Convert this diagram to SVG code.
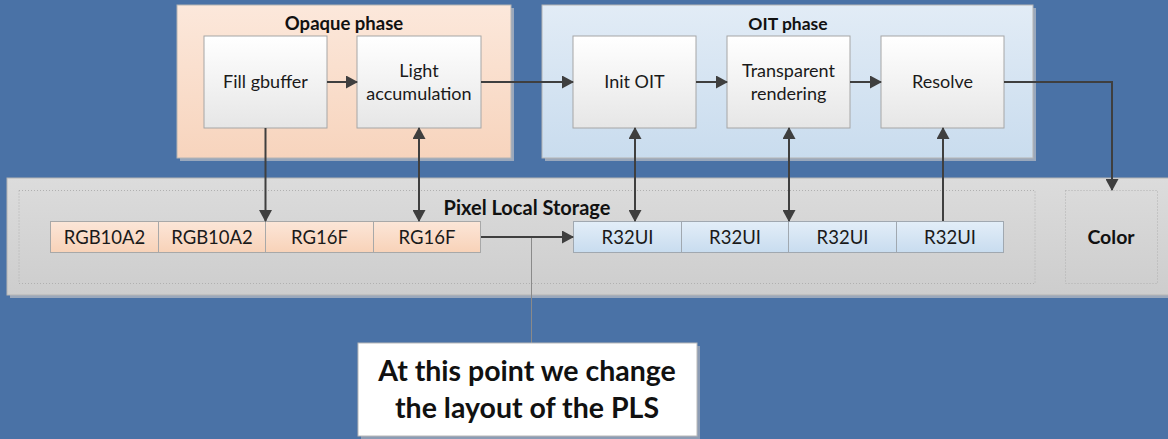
<svg xmlns="http://www.w3.org/2000/svg" width="1168" height="439" viewBox="0 0 1168 439">
  <defs>
    <linearGradient id="gPeach" x1="0" y1="0" x2="0" y2="1">
      <stop offset="0" stop-color="#fce8db"/>
      <stop offset="1" stop-color="#f7d4bd"/>
    </linearGradient>
    <linearGradient id="gIce" x1="0" y1="0" x2="0" y2="1">
      <stop offset="0" stop-color="#e2ecf6"/>
      <stop offset="1" stop-color="#c9dcee"/>
    </linearGradient>
    <linearGradient id="gNode" x1="0" y1="0" x2="0" y2="1">
      <stop offset="0" stop-color="#ffffff"/>
      <stop offset="1" stop-color="#e6e6e6"/>
    </linearGradient>
    <linearGradient id="gGray" x1="0" y1="0" x2="0" y2="1">
      <stop offset="0" stop-color="#dcdcdc"/>
      <stop offset="1" stop-color="#cdcdcd"/>
    </linearGradient>
    <linearGradient id="gCellPeach" x1="0" y1="0" x2="0" y2="1">
      <stop offset="0" stop-color="#fce6d8"/>
      <stop offset="1" stop-color="#f8d2b8"/>
    </linearGradient>
    <linearGradient id="gCellIce" x1="0" y1="0" x2="0" y2="1">
      <stop offset="0" stop-color="#e3eef8"/>
      <stop offset="1" stop-color="#c8dcef"/>
    </linearGradient>
    <marker id="head" viewBox="0 0 12 13" refX="11" refY="6.5" markerWidth="12" markerHeight="13" markerUnits="userSpaceOnUse" orient="auto-start-reverse">
      <path d="M0,0 L12,6.5 L0,13 Z" fill="#3f3f3f"/>
    </marker>
    <style>
      .label { font-family: Lato, "Open Sans", "Liberation Sans", sans-serif; font-size: 18px; fill: #1a1a1a; text-anchor: middle; }
      .cell { font-family: Lato, "Open Sans", "Liberation Sans", sans-serif; font-size: 18.5px; fill: #1a1a1a; text-anchor: middle; }
      .title { font-family: Lato, "Open Sans", "Liberation Sans", sans-serif; font-size: 17.5px; font-weight: bold; fill: #111; text-anchor: middle; }
      .callout { font-family: Lato, "Open Sans", "Liberation Sans", sans-serif; font-size: 28.5px; font-weight: bold; fill: #111; text-anchor: middle; }
      .shadow { fill: #9aa8bc; }
      .panel { stroke: #b4b4b4; stroke-width: 1; }
      .node { fill: url(#gNode); stroke: #a6a6a6; stroke-width: 1; }
      .dotted { fill: none; stroke: #b0b0b0; stroke-width: 1; stroke-dasharray: 1 2; }
      .cellP { fill: url(#gCellPeach); stroke: #a8a8a8; stroke-width: 1; }
      .cellB { fill: url(#gCellIce); stroke: #a0a8b0; stroke-width: 1; }
      .wire { fill: none; stroke: #3f3f3f; stroke-width: 2; }
    </style>
  </defs>

  <rect width="1168" height="439" fill="#4a72a6"/>

  <!-- Opaque phase container -->
  <g id="opaque-phase">
    <rect class="shadow" x="180" y="8" width="334" height="153"/>
    <rect class="panel" x="177" y="5" width="334" height="153" fill="url(#gPeach)"/>
    <text class="title" x="344" y="30" style="font-size:18.5px">Opaque phase</text>
  </g>

  <!-- OIT phase container -->
  <g id="oit-phase">
    <rect class="shadow" x="545" y="8" width="491" height="153"/>
    <rect class="panel" x="542" y="5" width="491" height="153" fill="url(#gIce)"/>
    <text class="title" x="788" y="30">OIT phase</text>
  </g>

  <!-- Pixel Local Storage container -->
  <g id="pls">
    <rect class="shadow" x="10" y="181" width="1170" height="117"/>
    <rect class="panel" x="7" y="178" width="1170" height="117" fill="url(#gGray)"/>
    <rect class="dotted" x="19" y="190.5" width="1016" height="93"/>
    <text class="title" x="527" y="215" style="font-size:20px">Pixel Local Storage</text>
  </g>

  <g id="color">
    <rect class="dotted" x="1065.5" y="190.5" width="92" height="93"/>
    <text class="title" x="1111" y="244" style="font-size:19.5px">Color</text>
  </g>

  <!-- Passes -->
  <g id="fill-gbuffer">
    <rect class="node" x="204" y="36" width="123" height="92"/>
    <text class="label" x="265.5" y="88">Fill gbuffer</text>
  </g>
  <g id="light-accumulation">
    <rect class="node" x="357" y="36" width="124" height="92"/>
    <text class="label" x="419" y="77">Light</text>
    <text class="label" x="419" y="100">accumulation</text>
  </g>
  <g id="init-oit">
    <rect class="node" x="573" y="36" width="123" height="92"/>
    <text class="label" x="634.5" y="88">Init OIT</text>
  </g>
  <g id="transparent-rendering">
    <rect class="node" x="727" y="36" width="123" height="92"/>
    <text class="label" x="788.5" y="77">Transparent</text>
    <text class="label" x="788.5" y="100">rendering</text>
  </g>
  <g id="resolve">
    <rect class="node" x="881" y="36" width="123" height="92"/>
    <text class="label" x="942.5" y="88">Resolve</text>
  </g>

  <!-- Storage layout: opaque phase -->
  <g id="pls-opaque-layout">
    <rect class="cellP" x="50.5" y="221.5" width="108" height="31"/>
    <rect class="cellP" x="158.5" y="221.5" width="107" height="31"/>
    <rect class="cellP" x="265.5" y="221.5" width="108" height="31"/>
    <rect class="cellP" x="373.5" y="221.5" width="107" height="31"/>
    <text class="cell" x="104.5" y="243.5">RGB10A2</text>
    <text class="cell" x="212" y="243.5">RGB10A2</text>
    <text class="cell" x="319.5" y="243.5">RG16F</text>
    <text class="cell" x="427" y="243.5">RG16F</text>
  </g>

  <!-- Storage layout: OIT phase -->
  <g id="pls-oit-layout">
    <rect class="cellB" x="573.5" y="221.5" width="108" height="31"/>
    <rect class="cellB" x="681.5" y="221.5" width="107" height="31"/>
    <rect class="cellB" x="788.5" y="221.5" width="108" height="31"/>
    <rect class="cellB" x="896.5" y="221.5" width="107" height="31"/>
    <text class="cell" x="627.5" y="243.5">R32UI</text>
    <text class="cell" x="735" y="243.5">R32UI</text>
    <text class="cell" x="842.5" y="243.5">R32UI</text>
    <text class="cell" x="950" y="243.5">R32UI</text>
  </g>

  <!-- Callout -->
  <g id="callout">
    <line x1="531.5" y1="237" x2="531.5" y2="343" stroke="#8a8a8a" stroke-width="1"/>
    <rect x="361" y="346" width="339" height="93" fill="#8c9cb4"/>
    <rect x="358" y="343" width="339" height="93" fill="#ffffff" stroke="#b8b8b8" stroke-width="1"/>
    <text class="callout" x="527" y="381">At this point we change</text>
    <text class="callout" x="527" y="418">the layout of the PLS</text>
  </g>

  <!-- Connectors -->
  <g id="connectors">
    <line class="wire" x1="327" y1="82" x2="357" y2="82" marker-end="url(#head)"/>
    <line class="wire" x1="481" y1="82" x2="573" y2="82" marker-end="url(#head)"/>
    <line class="wire" x1="696" y1="82" x2="727" y2="82" marker-end="url(#head)"/>
    <line class="wire" x1="850" y1="82" x2="881" y2="82" marker-end="url(#head)"/>
    <polyline class="wire" points="1004,82 1112,82 1112,190" marker-end="url(#head)"/>
    <line class="wire" x1="265.5" y1="128" x2="265.5" y2="221" marker-end="url(#head)"/>
    <line class="wire" x1="419" y1="128" x2="419" y2="221" marker-start="url(#head)" marker-end="url(#head)"/>
    <line class="wire" x1="481" y1="237" x2="573" y2="237" marker-end="url(#head)"/>
    <line class="wire" x1="635" y1="128" x2="635" y2="221" marker-start="url(#head)" marker-end="url(#head)"/>
    <line class="wire" x1="789" y1="128" x2="789" y2="221" marker-start="url(#head)" marker-end="url(#head)"/>
    <line class="wire" x1="943" y1="221" x2="943" y2="128" marker-end="url(#head)"/>
  </g>
</svg>
